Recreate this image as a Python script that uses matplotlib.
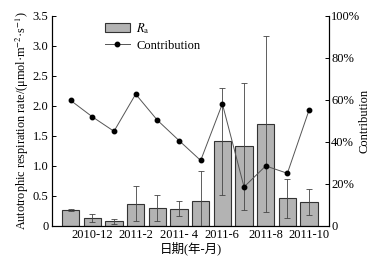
import matplotlib
matplotlib.use("Agg")
import matplotlib.pyplot as plt
from matplotlib.lines import Line2D
from matplotlib.patches import Patch

months = ["2010-11", "2010-12", "2011-1", "2011-2", "2011-3", "2011-4",
          "2011-5", "2011-6", "2011-7", "2011-8", "2011-9", "2011-10"]
ra_values = [0.27, 0.13, 0.08, 0.37, 0.30, 0.29, 0.42, 1.41, 1.33, 1.70, 0.46, 0.40]
ra_errors = [0.02, 0.07, 0.04, 0.29, 0.22, 0.13, 0.49, 0.89, 1.06, 1.47, 0.32, 0.22]
contribution = [59.8, 52.0, 45.1, 62.8, 50.4, 40.7, 31.2, 58.2, 18.6, 28.6, 25.1, 55.2]
tick_idx = [1, 3, 5, 7, 9, 11]
tick_labels = ["2010-12", "2011-2", "2011- 4", "2011-6", "2011-8", "2011-10"]
left_ticks = [0, 0.5, 1.0, 1.5, 2.0, 2.5, 3.0, 3.5]
left_labels = ["0", "0.5", "1.0", "1.5", "2.0", "2.5", "3.0", "3.5"]
right_ticks = [0, 20, 40, 60, 80, 100]
right_labels = ["0", "20%", "40%", "60%", "80%", "100%"]

plt.rcParams['font.family'] = ['Liberation Serif', 'Noto Sans CJK SC']
plt.rcParams['mathtext.fontset'] = 'stix'
FS = 9

fig = plt.figure(figsize=(3.84, 2.65), dpi=100)
ax = fig.add_axes([52/384, 39/265, (329-52)/384, (226-16)/265])
x = list(range(len(months)))
ax.bar(x, ra_values, width=0.8, color='#b3b3b3', edgecolor='#333333', linewidth=0.8, zorder=2)
ax.errorbar(x, ra_values, yerr=ra_errors, fmt='none', ecolor='#444444',
            elinewidth=0.6, capsize=2.5, capthick=0.6, zorder=3)
ax.set_xlim(-0.86, 11.92)
ax.set_ylim(0, 3.5)
ax.set_yticks(left_ticks)
ax.set_yticklabels(left_labels)
ax.set_xticks(tick_idx)
ax.set_xticklabels(tick_labels)
ax.tick_params(axis='both', direction='in', length=3, width=0.7, labelsize=FS, pad=2.5)
ax.spines['top'].set_visible(False)
for s in ['left', 'bottom', 'right']:
    ax.spines[s].set_linewidth(0.8)
ax.set_ylabel("Autotrophic respiration rate/(μmol·m$^{-2}$·s$^{-1}$)", fontsize=8.8, labelpad=1)
ax.set_xlabel("日期(年-月)", fontsize=FS, labelpad=0)

ax2 = ax.twinx()
ax2.plot(x, contribution, color='#555555', linewidth=0.7, marker='o', markersize=3.2,
         markerfacecolor='black', markeredgecolor='black', zorder=4)
ax2.set_ylim(0, 100)
ax2.set_yticks(right_ticks)
ax2.set_yticklabels(right_labels)
ax2.tick_params(axis='y', direction='in', length=3, width=0.7, labelsize=FS, pad=1.5)
ax2.spines['top'].set_visible(False)
ax2.spines['right'].set_linewidth(0.8)
ax2.set_ylabel("Contribution", fontsize=FS, labelpad=-1)

handles = [Patch(facecolor='#b3b3b3', edgecolor='#333333', linewidth=0.8),
           Line2D([], [], color='#555555', linewidth=0.7, marker='o', markersize=3.2,
                  markerfacecolor='black', markeredgecolor='black')]
ax2.legend(handles, ["$R_\\mathrm{a}$", "Contribution"], loc='upper left',
           bbox_to_anchor=(0.15, 1.03), frameon=False, fontsize=FS,
           handlelength=2.0, handleheight=0.8, handletextpad=0.5, labelspacing=0.3)

fig.savefig("out.png", dpi=100)
